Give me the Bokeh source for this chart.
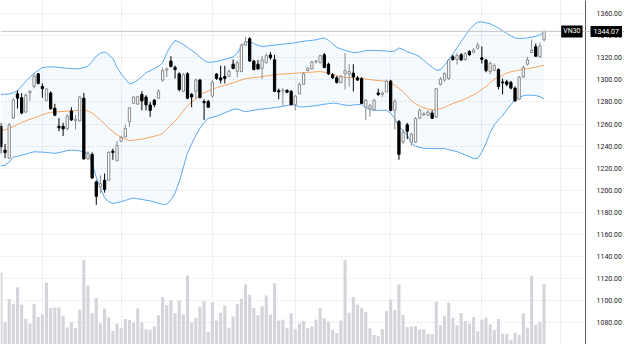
from bokeh.plotting import figure
from bokeh.models import (Range1d, FixedTicker, NumeralTickFormatter, Span, Label,
                          ColumnDataSource, BoxAnnotation)
from bokeh.embed import file_html
from bokeh.resources import INLINE

# ---------------- data (VN30 daily) ----------------
open_ = [1257.9, 1236.2, 1229.0, 1265.4, 1287.4, 1283.9, 1270.9, 1288.4, 1294.1, 1305.6,
         1294.1, 1281.6, 1288.2, 1274.3, 1257.9, 1257.9, 1255.6, 1271.8, 1263.1, 1262.8,
         1283.4, 1228.4, 1232.4, 1207.3, 1202.9, 1209.0, 1209.0, 1235.3, 1226.6, 1244.3,
         1248.3, 1262.2, 1278.7, 1278.0, 1286.9, 1284.5, 1277.3, 1281.6, 1283.4, 1299.9,
         1309.1, 1317.2, 1311.4, 1305.6, 1289.7, 1305.6, 1286.9, 1289.7, 1299.9, 1280.4,
         1280.4, 1285.4, 1305.3, 1301.9, 1303.2, 1303.3, 1314.3, 1307.7, 1307.7, 1331.6,
         1337.4, 1317.2, 1314.3, 1310.5, 1315.7, 1322.7, 1318.3, 1290.3, 1290.1, 1290.6,
         1289.7, 1277.6, 1287.4, 1296.0, 1308.5, 1309.9, 1316.4, 1315.7, 1322.9, 1314.3,
         1304.7, 1301.9, 1297.8, 1305.6, 1305.3, 1306.2, 1301.9, 1301.3, 1275.2, 1273.8,
         1273.0, 1288.2, 1286.9, 1289.1, 1299.0, 1272.4, 1262.2, 1243.5, 1259.3, 1243.5,
         1243.5, 1265.1, 1268.5, 1268.0, 1270.0, 1266.5, 1296.0, 1299.9, 1301.3, 1321.0,
         1318.6, 1322.9, 1318.6, 1325.9, 1325.0, 1328.8, 1320.1, 1318.1, 1307.7, 1308.8,
         1309.4, 1298.2, 1298.4, 1297.8, 1292.6, 1282.5, 1302.7, 1314.3, 1324.9, 1330.2,
         1321.0, 1336.6]
high = [1261.1, 1242.0, 1261.1, 1283.6, 1290.6, 1288.0, 1288.0, 1290.6, 1305.6, 1306.2,
        1296.9, 1292.6, 1289.7, 1278.4, 1265.4, 1261.1, 1268.9, 1275.2, 1268.0, 1285.4,
        1288.2, 1235.1, 1234.2, 1209.0, 1213.4, 1215.1, 1235.1, 1237.7, 1244.6, 1249.2,
        1259.3, 1275.2, 1285.4, 1285.6, 1289.7, 1286.2, 1280.2, 1282.8, 1291.5, 1311.4,
        1311.4, 1321.6, 1313.1, 1307.0, 1306.2, 1307.0, 1288.2, 1301.3, 1301.0, 1282.5,
        1281.9, 1300.1, 1306.2, 1312.9, 1312.9, 1309.7, 1318.6, 1317.5, 1333.1, 1339.2,
        1338.9, 1318.3, 1318.3, 1321.8, 1324.4, 1325.3, 1322.9, 1292.3, 1292.6, 1291.5,
        1290.6, 1286.2, 1297.5, 1307.0, 1311.4, 1317.5, 1318.3, 1322.9, 1324.4, 1315.7,
        1306.2, 1303.6, 1304.5, 1324.4, 1314.3, 1314.3, 1303.6, 1302.7, 1282.8, 1278.4,
        1282.8, 1292.1, 1289.7, 1300.1, 1300.1, 1282.8, 1263.7, 1255.0, 1261.1, 1252.0,
        1266.3, 1274.1, 1270.6, 1272.4, 1272.4, 1292.6, 1302.7, 1307.0, 1319.2, 1322.7,
        1324.4, 1324.4, 1325.3, 1327.0, 1328.8, 1334.0, 1330.5, 1319.2, 1316.6, 1314.9,
        1310.5, 1301.3, 1300.1, 1299.3, 1294.1, 1303.6, 1313.1, 1321.0, 1336.6, 1333.1,
        1334.0, 1344.8]
low = [1233.3, 1229.0, 1228.1, 1264.6, 1274.1, 1268.9, 1269.8, 1281.0, 1292.3, 1295.8,
       1283.9, 1280.4, 1273.0, 1267.2, 1253.5, 1249.2, 1254.4, 1262.8, 1255.0, 1261.9,
       1227.5, 1227.5, 1210.1, 1186.5, 1197.1, 1197.7, 1208.2, 1227.5, 1226.4, 1243.5,
       1247.8, 1257.4, 1278.2, 1277.5, 1272.4, 1272.4, 1266.5, 1275.2, 1282.8, 1298.4,
       1302.7, 1311.4, 1301.3, 1289.7, 1288.9, 1282.5, 1275.2, 1282.5, 1283.4, 1263.7,
       1275.0, 1283.9, 1300.1, 1296.9, 1296.9, 1302.7, 1309.7, 1302.7, 1307.0, 1331.4,
       1316.4, 1308.8, 1309.7, 1301.0, 1314.9, 1318.3, 1288.9, 1282.5, 1276.7, 1288.0,
       1276.7, 1272.4, 1287.1, 1295.8, 1307.9, 1309.7, 1314.9, 1314.9, 1310.5, 1304.5,
       1301.0, 1296.7, 1296.7, 1291.2, 1294.1, 1289.7, 1299.3, 1278.4, 1263.7, 1266.5,
       1272.4, 1285.4, 1284.5, 1288.9, 1271.5, 1255.0, 1227.5, 1242.0, 1246.3, 1240.2,
       1242.9, 1264.6, 1267.2, 1267.2, 1264.6, 1265.4, 1294.9, 1298.4, 1300.1, 1317.5,
       1314.0, 1317.5, 1317.5, 1321.8, 1324.4, 1327.9, 1314.9, 1307.0, 1305.3, 1307.9,
       1291.5, 1286.9, 1294.1, 1291.5, 1280.2, 1281.9, 1301.9, 1313.1, 1324.4, 1321.0,
       1320.1, 1334.8]
close = [1239.4, 1234.2, 1259.3, 1281.9, 1283.4, 1270.0, 1286.2, 1289.7, 1303.6, 1296.9,
         1292.1, 1291.7, 1273.8, 1268.0, 1256.5, 1255.6, 1267.2, 1263.7, 1264.3, 1284.5,
         1228.4, 1233.3, 1211.0, 1194.3, 1205.8, 1200.6, 1234.2, 1234.2, 1240.5, 1247.8,
         1255.9, 1274.7, 1284.5, 1284.8, 1281.0, 1277.3, 1272.4, 1277.6, 1289.7, 1308.5,
         1309.9, 1312.3, 1309.4, 1291.2, 1304.7, 1283.4, 1284.5, 1299.9, 1283.9, 1279.3,
         1275.2, 1297.8, 1301.3, 1299.9, 1301.4, 1307.7, 1310.5, 1315.7, 1331.6, 1334.6,
         1317.2, 1309.4, 1309.9, 1318.3, 1322.1, 1320.1, 1289.7, 1289.1, 1290.6, 1288.9,
         1277.6, 1285.4, 1296.0, 1305.6, 1310.5, 1316.4, 1317.2, 1322.1, 1311.4, 1305.6,
         1301.9, 1297.8, 1303.6, 1308.5, 1307.7, 1302.7, 1299.9, 1278.7, 1281.6, 1276.7,
         1281.6, 1286.9, 1288.2, 1299.0, 1272.4, 1280.4, 1232.4, 1252.6, 1253.5, 1250.7,
         1265.1, 1272.4, 1269.3, 1270.9, 1265.1, 1292.1, 1300.7, 1305.6, 1318.1, 1318.6,
         1322.1, 1318.1, 1323.8, 1322.9, 1327.3, 1331.6, 1318.6, 1308.5, 1315.1, 1313.1,
         1294.1, 1297.3, 1296.0, 1292.6, 1281.0, 1302.7, 1311.4, 1318.1, 1327.0, 1321.6,
         1330.8, 1344.07]
volume = [80, 28.3, 52.7, 47.3, 65, 46.7, 32, 26.7, 47.3, 33.7,
          36.3, 69.7, 43.3, 43.7, 43.7, 34.7, 23, 28.3, 22.3, 41.3,
          93.3, 66.7, 37.7, 53.7, 27, 42.3, 33.3, 19, 26.7, 22.3,
          31.7, 30.7, 28, 42.7, 28, 21, 20.7, 24, 35.7, 54.7,
          46.3, 51.3, 37.7, 51, 36.3, 77.3, 28, 33, 44.3, 50.3,
          18, 49.3, 30, 38.3, 46, 22, 34.3, 47.3, 53, 67.7,
          57, 43.3, 35.7, 45, 56.3, 36.3, 69, 30, 31, 22,
          37.7, 21, 27, 29.7, 22.3, 24, 31, 43.3, 32.3, 29,
          20, 17, 30.3, 93.3, 38.3, 54.7, 46.7, 43.3, 39, 22,
          15, 13.7, 21, 40, 52, 41.3, 67.7, 36, 23.3, 24,
          24.3, 20.7, 21, 16, 16, 50, 25.3, 35, 49, 33,
          25, 38, 29.7, 27, 33.7, 18.7, 31, 33, 26, 20,
          31.7, 16.3, 16.3, 10, 17.3, 15, 37.7, 22.7, 77, 25.7,
          28.3, 68.3]
bb_upper = [1286.9, 1287.1, 1287.3, 1288.4, 1290.2, 1294.6, 1298.7, 1302.6, 1306.2, 1308.7,
            1311.2, 1311.7, 1311.9, 1311.8, 1311.4, 1311.0, 1310.6, 1310.4, 1310.1, 1310.4,
            1311.4, 1312.5, 1316.6, 1321.6, 1324.4, 1325.5, 1323.2, 1319.6, 1311.6, 1305.6,
            1301.0, 1296.4, 1297.5, 1299.9, 1303.4, 1306.6, 1308.5, 1310.4, 1312.2, 1315.6,
            1324.4, 1331.2, 1336.0, 1334.3, 1332.2, 1329.6, 1327.0, 1324.3, 1320.8, 1317.7,
            1315.9, 1316.3, 1316.7, 1317.7, 1318.8, 1320.0, 1320.9, 1324.2, 1330.5, 1334.8,
            1334.8, 1333.0, 1331.5, 1330.4, 1330.7, 1331.3, 1331.7, 1332.1, 1332.6, 1332.9,
            1333.3, 1333.9, 1334.6, 1335.2, 1335.6, 1336.0, 1336.5, 1337.5, 1338.1, 1336.1,
            1332.9, 1329.5, 1328.1, 1326.9, 1325.8, 1324.8, 1325.1, 1325.8, 1326.7, 1326.9,
            1326.8, 1326.6, 1326.5, 1326.4, 1325.7, 1326.3, 1329.1, 1327.6, 1325.7, 1324.3,
            1322.9, 1321.0, 1317.9, 1314.5, 1311.7, 1308.8, 1309.2, 1313.5, 1318.2, 1323.7,
            1329.1, 1334.8, 1340.2, 1345.9, 1349.8, 1352.7, 1352.7, 1351.9, 1351.1, 1349.1,
            1347.1, 1344.7, 1342.3, 1340.1, 1338.2, 1337.6, 1337.9, 1338.2, 1338.9, 1339.7,
            1341.1, 1343.3]
bb_mid = [1253.5, 1254.8, 1256.0, 1257.7, 1259.6, 1261.3, 1262.9, 1264.2, 1265.5, 1267.0,
          1268.5, 1269.7, 1270.5, 1271.0, 1271.1, 1271.4, 1271.7, 1271.9, 1272.2, 1272.5,
          1272.9, 1271.8, 1269.9, 1266.9, 1263.8, 1260.0, 1256.3, 1253.1, 1250.2, 1247.8,
          1246.3, 1245.0, 1245.3, 1245.8, 1246.3, 1247.1, 1248.0, 1248.9, 1249.9, 1251.5,
          1255.4, 1259.1, 1262.8, 1267.0, 1271.9, 1276.8, 1280.0, 1283.1, 1286.1, 1288.4,
          1289.9, 1291.7, 1292.9, 1294.1, 1295.2, 1296.3, 1297.4, 1298.6, 1300.0, 1301.2,
          1301.7, 1302.1, 1302.5, 1303.1, 1303.6, 1304.1, 1304.7, 1305.2, 1305.4, 1305.6,
          1305.9, 1306.1, 1306.4, 1306.6, 1306.9, 1307.1, 1307.3, 1307.6, 1307.1, 1306.0,
          1304.9, 1304.0, 1302.9, 1302.4, 1302.1, 1301.9, 1301.5, 1301.2, 1300.7, 1300.3,
          1299.9, 1299.5, 1299.1, 1298.6, 1297.3, 1295.0, 1292.3, 1289.4, 1285.4, 1281.2,
          1278.4, 1276.3, 1274.7, 1273.6, 1272.9, 1273.2, 1273.8, 1275.1, 1277.0, 1278.6,
          1280.0, 1281.2, 1282.8, 1284.9, 1286.4, 1288.7, 1291.5, 1294.0, 1297.7, 1300.7,
          1302.5, 1304.2, 1306.2, 1307.4, 1308.2, 1309.0, 1309.7, 1310.3, 1311.0, 1311.6,
          1312.5, 1313.4]
bb_lower = [1221.8, 1222.6, 1225.3, 1230.0, 1230.7, 1231.6, 1232.6, 1233.8, 1234.8, 1234.6,
            1234.5, 1234.1, 1233.8, 1233.4, 1234.0, 1234.9, 1235.9, 1236.2, 1236.2, 1235.6,
            1234.1, 1233.5, 1224.2, 1211.8, 1201.7, 1193.1, 1189.5, 1187.8, 1188.6, 1189.5,
            1190.6, 1191.8, 1192.7, 1192.1, 1191.5, 1190.8, 1190.2, 1189.2, 1188.0, 1187.1,
            1187.1, 1191.0, 1197.2, 1207.4, 1220.6, 1233.8, 1241.8, 1249.6, 1256.0, 1261.4,
            1265.1, 1266.1, 1267.2, 1268.5, 1270.1, 1271.7, 1273.4, 1273.6, 1272.2, 1271.1,
            1271.8, 1272.5, 1273.2, 1273.6, 1273.9, 1274.4, 1274.9, 1275.4, 1276.1, 1276.7,
            1277.7, 1277.1, 1275.4, 1275.6, 1275.9, 1276.3, 1276.7, 1277.3, 1278.0, 1278.4,
            1278.9, 1278.8, 1277.9, 1277.2, 1276.8, 1277.3, 1277.8, 1277.6, 1274.9, 1273.2,
            1272.4, 1272.4, 1272.4, 1272.4, 1269.7, 1264.9, 1257.4, 1254.2, 1249.8, 1242.6,
            1239.8, 1238.9, 1237.9, 1237.7, 1237.7, 1237.7, 1237.7, 1237.7, 1236.7, 1235.8,
            1234.9, 1233.3, 1231.8, 1230.2, 1228.6, 1228.8, 1234.5, 1242.6, 1252.2, 1259.1,
            1263.7, 1267.5, 1272.7, 1277.5, 1282.4, 1284.2, 1285.7, 1286.2, 1286.1, 1285.9,
            1284.8, 1282.8]
month_starts = [10, 29, 51, 71, 94, 116, 135]
grid_ticks = list(range(1060, 1380, 20))
label_ticks = list(range(1080, 1380, 20))
symbol = "VN30"
last_price = 1344.07

X_START, X_AXIS, X_END = -0.1, 141.0, 150.4   # visible bars / price-scale position

n = len(close)
idx = list(range(n))
up = [c >= o for o, c in zip(open_, close)]
src = ColumnDataSource(dict(
    x=idx, open=open_, high=high, low=low, close=close,
    top=[max(o, c) for o, c in zip(open_, close)],
    bottom=[min(o, c) for o, c in zip(open_, close)],
    fill=["#ffffff" if u else "#000000" for u in up],
    edge=["#8a8a8a" if u else "#000000" for u in up],
))

p = figure(width=624, height=344, output_backend="svg", toolbar_location=None,
           x_range=Range1d(X_START, X_END), y_range=Range1d(1059.8, 1372.15),
           y_axis_location="right", min_border_left=0, min_border_top=0,
           min_border_bottom=0, min_border_right=0)
p.outline_line_color = None
p.background_fill_color = "#ffffff"
p.border_fill_color = "#ffffff"
p.xaxis.visible = False

p.xgrid.ticker = FixedTicker(ticks=month_starts)
p.xgrid.grid_line_color = "#eef0f4"
p.ygrid.ticker = FixedTicker(ticks=grid_ticks)
p.ygrid.grid_line_color = "#e2e4ea"
p.ygrid.grid_line_dash = "2 2"

# blank price-scale area (no grid there)
p.add_layout(BoxAnnotation(left=X_AXIS, fill_color="#ffffff", fill_alpha=1.0,
                           line_color=None, level="underlay"))

ax = p.yaxis[0]
ax.fixed_location = X_AXIS
ax.ticker = FixedTicker(ticks=label_ticks)
ax.formatter = NumeralTickFormatter(format="0.00")
ax.major_label_text_font = "Roboto"
ax.major_label_text_font_size = "7px"
ax.major_label_text_color = "#222222"
ax.major_label_standoff = 5
ax.major_tick_line_color = None
ax.minor_tick_line_color = None
ax.axis_line_color = "#5a5d66"

# volume
p.extra_y_ranges = {"vol": Range1d(5, 365)}
p.vbar(x=idx, top=volume, bottom=0, width=0.75, y_range_name="vol",
       fill_color="#d4d5db", line_color=None)

# bollinger bands
p.varea(x=idx, y1=bb_lower, y2=bb_upper, fill_color="#2196f3", fill_alpha=0.05)
p.line(idx, bb_upper, line_color="#5ba8f0", line_width=1)
p.line(idx, bb_lower, line_color="#5ba8f0", line_width=1)
p.line(idx, bb_mid, line_color="#f7a35c", line_width=1)

# last price line
p.add_layout(Span(location=last_price, dimension="width", line_color="#c4c6cc",
                  line_width=1))

# candles
p.segment(x0="x", y0="high", x1="x", y1="low", source=src, line_color="edge",
          line_width=1)
p.vbar(x="x", top="top", bottom="bottom", width=0.55, source=src,
       fill_color="fill", line_color="edge", line_width=1)

p.add_layout(Label(x=X_AXIS, y=last_price, text=symbol, text_align="right",
                   text_baseline="middle", x_offset=-3, text_color="#ffffff",
                   text_font="Roboto", text_font_size="7px",
                   background_fill_color="#000000", padding=2))
p.add_layout(Label(x=X_AXIS, y=last_price, text=f"{last_price:.2f}", text_align="left",
                   text_baseline="middle", x_offset=5, text_color="#ffffff",
                   text_font="Roboto", text_font_size="7px",
                   background_fill_color="#000000", padding=3))

open("out.html", "w").write(file_html(p, INLINE))
